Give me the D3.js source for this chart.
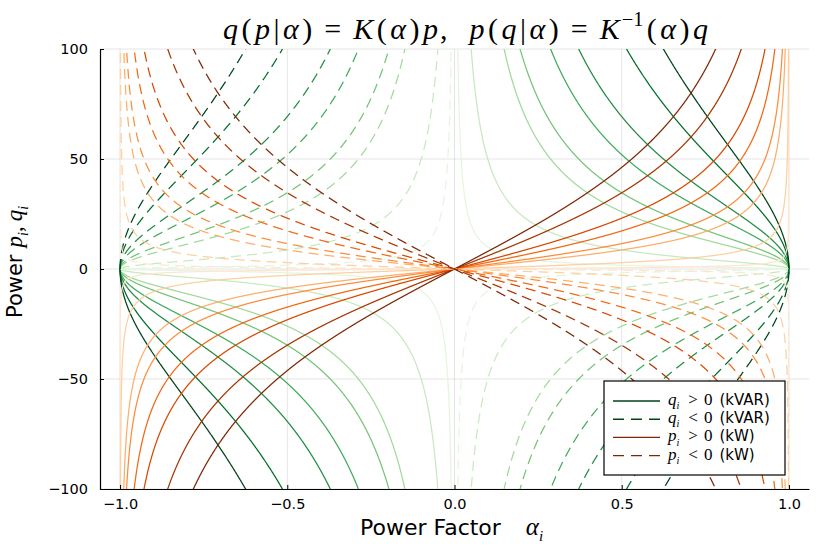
<!DOCTYPE html>
<html>
<head>
<meta charset="utf-8">
<script src="https://cdn.jsdelivr.net/npm/d3@7"></script>
<style>
  body { margin: 0; background: #fff; }
  svg { display: block; }
</style>
</head>
<body>
<div id="chart"></div>
<script>
// curve multipliers (|p| for the green family, |q| for the orange family)
const multipliers = [1, 5, 15, 20, 30, 40, 60, 80];
const greens  = ['#e5f5e0', '#c7e9c0', '#a1d99b', '#74c476', '#41ab5d', '#238b45', '#006d2c', '#00441b'];
const oranges = ['#fee6ce', '#fdd0a2', '#fdae6b', '#fd8d3c', '#f16913', '#d94801', '#a63603', '#7f2704'];
const alphaTicks = [-1.0, -0.5, 0.0, 0.5, 1.0];
const powerTicks = [-100, -50, 0, 50, 100];
const alphaDomain = [-1.06, 1.06];
const powerDomain = [-100, 100];

// K(α) from the title: q = K(α) p,  p = K^-1(α) q
const K = a => Math.sqrt(1 - a * a) / a;
const Kinv = a => a / Math.sqrt(1 - a * a);

const width = 821, height = 548;
const margin = {top: 49, right: 12, bottom: 59, left: 100};
const innerW = width - margin.left - margin.right;
const innerH = height - margin.top - margin.bottom;

const svg = d3.select("#chart").append("svg").attr("width", width).attr("height", height);
const g = svg.append("g").attr("transform", `translate(${margin.left},${margin.top})`);

const x = d3.scaleLinear().domain(alphaDomain).range([0, innerW]);
const y = d3.scaleLinear().domain(powerDomain).range([innerH, 0]);

// grid
g.append("g").selectAll("line").data(alphaTicks).enter().append("line")
  .attr("x1", d => x(d)).attr("x2", d => x(d)).attr("y1", 0).attr("y2", innerH)
  .attr("stroke", "#000").attr("stroke-opacity", 0.1);
g.append("g").selectAll("line").data(powerTicks).enter().append("line")
  .attr("y1", d => y(d)).attr("y2", d => y(d)).attr("x1", 0).attr("x2", innerW)
  .attr("stroke", "#000").attr("stroke-opacity", 0.1);

svg.append("clipPath").attr("id", "clip").append("rect")
  .attr("width", innerW).attr("height", innerH);
const plot = g.append("g").attr("clip-path", "url(#clip)");

// sample grids for the two branches
const step = 0.0005;
const tiny = [1e-4, 1e-5, 1e-6, 1e-7, 1e-8];
const greenRight = d3.range(step, 1 + 1e-9, step).concat(tiny).sort((a, b) => a - b);
const greenLeft = greenRight.map(a => -a).reverse();
const orangeAll = d3.range(-1 + step, 1 - step / 2, step)
  .concat(tiny.map(t => -1 + t), tiny.map(t => 1 - t)).sort((a, b) => a - b);

const clampY = v => Math.max(-1000, Math.min(1000, v));
const line = d3.line().x(d => x(d[0])).y(d => y(clampY(d[1])));

function drawCurve(alphas, fn, m, color, dashed) {
  plot.append("path").datum(alphas.map(a => [a, m * fn(a)]))
    .attr("fill", "none").attr("stroke", color).attr("stroke-width", 1.25)
    .attr("stroke-dasharray", dashed ? "10,6" : null)
    .attr("d", line);
}

multipliers.forEach((m, i) => {
  drawCurve(greenLeft, K, m, greens[i], false);
  drawCurve(greenRight, K, m, greens[i], false);
});
multipliers.forEach((m, i) => {
  drawCurve(greenLeft, K, -m, greens[i], true);
  drawCurve(greenRight, K, -m, greens[i], true);
});
multipliers.forEach((m, i) => drawCurve(orangeAll, Kinv, m, oranges[i], false));
multipliers.forEach((m, i) => drawCurve(orangeAll, Kinv, -m, oranges[i], true));

// axes
const fmtX = d => d3.format(".1f")(d).replace("-", "\u2212");
const fmtY = d => String(d).replace("-", "\u2212");
const xAxis = g.append("g").attr("transform", `translate(0,${innerH})`)
  .call(d3.axisBottom(x).tickValues(alphaTicks).tickFormat(fmtX).tickSize(-4).tickSizeOuter(0).tickPadding(10));
const yAxis = g.append("g")
  .call(d3.axisLeft(y).tickValues(powerTicks).tickFormat(fmtY).tickSize(-4).tickSizeOuter(0).tickPadding(12));
[xAxis, yAxis].forEach(ax => {
  ax.selectAll("text").style("font-family", "DejaVu Sans").style("font-size", "14.5px").attr("fill", "#000");
  ax.select(".domain").attr("stroke", "#000").attr("stroke-width", 1.2);
});

// mixed sans / math text
const SERIF = "Liberation Serif", SANS = "DejaVu Sans";
function richText(sel, parts, size) {
  parts.forEach(p => {
    const fs = p.sub || p.sup ? size * 0.68 : size;
    const t = sel.append("tspan").text(p.t)
      .style("font-family", p.sans ? SANS : SERIF)
      .style("font-style", p.i ? "italic" : "normal")
      .style("font-size", (p.fs || fs) + "px");
    if (p.dx) t.attr("dx", p.dx);
    if (p.sub) t.attr("dy", size * 0.28);
    if (p.sup) t.attr("dy", -size * 0.42);
    if (p.back) t.attr("dy", p.back * size);
  });
  return sel;
}

// title
const th = 3.5; // extra math spacing
richText(svg.append("text").attr("x", 223).attr("y", 39)
  .attr("xml:space", "preserve").attr("fill", "#000"), [
  {t: "q", i: 1}, {t: "(", dx: th}, {t: "p", i: 1, dx: th}, {t: "|", dx: th}, {t: "α", i: 1, dx: th}, {t: ")", dx: th},
  {t: "=", dx: 12}, {t: "K", i: 1, dx: 12}, {t: "(", dx: th}, {t: "α", i: 1, dx: th}, {t: ")", dx: th},
  {t: "p", i: 1, dx: th}, {t: ",", dx: 2},
  {t: "p", i: 1, dx: 22}, {t: "(", dx: th}, {t: "q", i: 1, dx: th}, {t: "|", dx: th}, {t: "α", i: 1, dx: th}, {t: ")", dx: th},
  {t: "=", dx: 12}, {t: "K", i: 1, dx: 12}, {t: "\u22121", sup: 1, dx: 2}, {t: "(", back: 0.42, dx: th},
  {t: "α", i: 1, dx: th}, {t: ")", dx: th}, {t: "q", i: 1, dx: th}
], 30);

// x label
richText(svg.append("text").attr("x", 360).attr("y", 535).attr("fill", "#000"), [
  {t: "Power Factor", sans: 1},
  {t: "α", i: 1, dx: 25, fs: 25}, {t: "i", i: 1, sub: 1}
], 22);

// y label
richText(svg.append("text").attr("transform", "translate(22,318) rotate(-90)").attr("fill", "#000"), [
  {t: "Power", sans: 1},
  {t: "p", i: 1, dx: 7, fs: 23}, {t: "i", i: 1, sub: 1}, {t: ",", back: -0.28, fs: 23}, {t: "q", i: 1, dx: 5, fs: 23}, {t: "i", i: 1, sub: 1}
], 21);

// legend
const legendItems = [
  {label: "q", rel: ">", unit: "(kVAR)", color: greens[7], dashed: false},
  {label: "q", rel: "<", unit: "(kVAR)", color: greens[7], dashed: true},
  {label: "p", rel: ">", unit: "(kW)", color: oranges[7], dashed: false},
  {label: "p", rel: "<", unit: "(kW)", color: oranges[7], dashed: true}
];
const lg = svg.append("g").attr("transform", "translate(604,381)");
lg.append("rect").attr("width", 181).attr("height", 94).attr("fill", "#fff")
  .attr("stroke", "#000").attr("stroke-width", 1.2);
legendItems.forEach((d, i) => {
  const yy = 20 + i * 18.2;
  lg.append("line").attr("x1", 9).attr("x2", 56).attr("y1", yy).attr("y2", yy)
    .attr("stroke", d.color).attr("stroke-width", 1.4)
    .attr("stroke-dasharray", d.dashed ? "11,7" : null);
  richText(lg.append("text").attr("x", 64).attr("y", yy + 4).attr("fill", "#000"), [
    {t: d.label, i: 1, fs: 17}, {t: "i", i: 1, sub: 1},
    {t: d.rel, dx: 9, back: -0.28, fs: 17}, {t: "0", dx: 6, fs: 17},
    {t: d.unit, sans: 1, dx: 7}
  ], 15);
});
</script>
</body>
</html>
